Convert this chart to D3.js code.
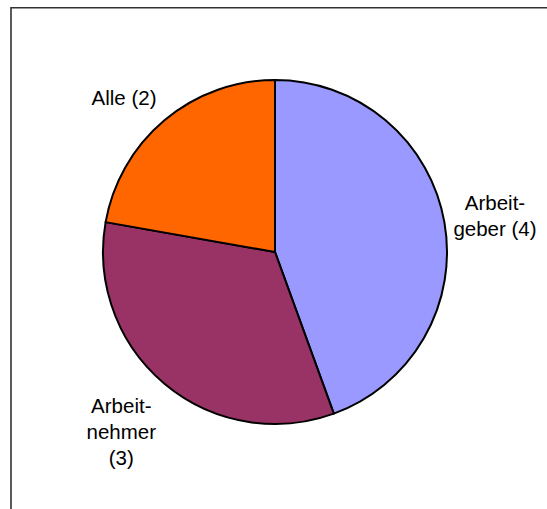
<!DOCTYPE html>
<html>
<head>
<meta charset="utf-8">
<style>
    body { margin: 0; background: #fff; }
    svg text { font-family: "Liberation Sans", Arial, sans-serif; font-size: 20.5px; fill: #000; }
</style>
</head>
<body>
<div class="viz"></div>
<script src="https://cdnjs.cloudflare.com/ajax/libs/d3/7.8.5/d3.min.js"></script>
<script>
    // data
    var categories = ["Arbeitgeber", "Arbeitnehmer", "Alle"];
    var values = [4, 3, 2];
    var colors = ["#9999FF", "#993366", "#FF6600"];
    var labelLines = [["Arbeit-", "geber (4)"], ["Arbeit-", "nehmer", "(3)"], ["Alle (2)"]];

    var width = 547, height = 509;
    var cx = 275, cy = 252, radius = 172;
    var lineH = 26, capH = 14.7, gap = 13;
    // small hand tweaks so labels sit where excel put them
    var labelNudge = [[-6, 4], [-4, 1], [-15, 8]];

    var svg = d3.select('.viz').append('svg')
        .attr('width', width)
        .attr('height', height);

    // chart frame (only top and left edges visible)
    svg.append('path')
        .attr('d', 'M11,' + height + 'V7.8H' + width)
        .attr('fill', 'none')
        .attr('stroke', '#333')
        .attr('stroke-width', 1.6);

    var pie = d3.pie().sort(null).value(function (d) { return d; });
    var arc = d3.arc().innerRadius(0).outerRadius(radius);

    var arcs = pie(values);

    var g = svg.append('g')
        .attr('transform', 'translate(' + cx + ',' + cy + ')');

    g.selectAll('path.slice')
        .data(arcs)
        .enter().append('path')
        .attr('class', 'slice')
        .attr('d', arc)
        .attr('fill', function (d, i) { return colors[i]; })
        .attr('stroke', '#000')
        .attr('stroke-width', 2)
        .attr('stroke-linejoin', 'round');

    // labels outside the pie, pushed out along the mid angle
    arcs.forEach(function (d, i) {
        var lines = labelLines[i];
        var t = g.append('text').attr('text-anchor', 'middle');
        lines.forEach(function (s, k) {
            t.append('tspan').attr('x', 0).attr('y', k * lineH).text(s);
        });
        var w = t.node().getBBox().width;
        var h = capH + (lines.length - 1) * lineH;
        var a = (d.startAngle + d.endAngle) / 2;
        var sx = Math.sin(a), sy = -Math.cos(a);
        var ext = Math.abs(sx) * w / 2 + Math.abs(sy) * h / 2;
        var r = radius + gap + ext;
        var px = r * sx + labelNudge[i][0],
            py = r * sy + labelNudge[i][1];
        t.attr('transform', 'translate(' + px + ',' + (py - h / 2 + capH) + ')');
    });
</script>
</body>
</html>
